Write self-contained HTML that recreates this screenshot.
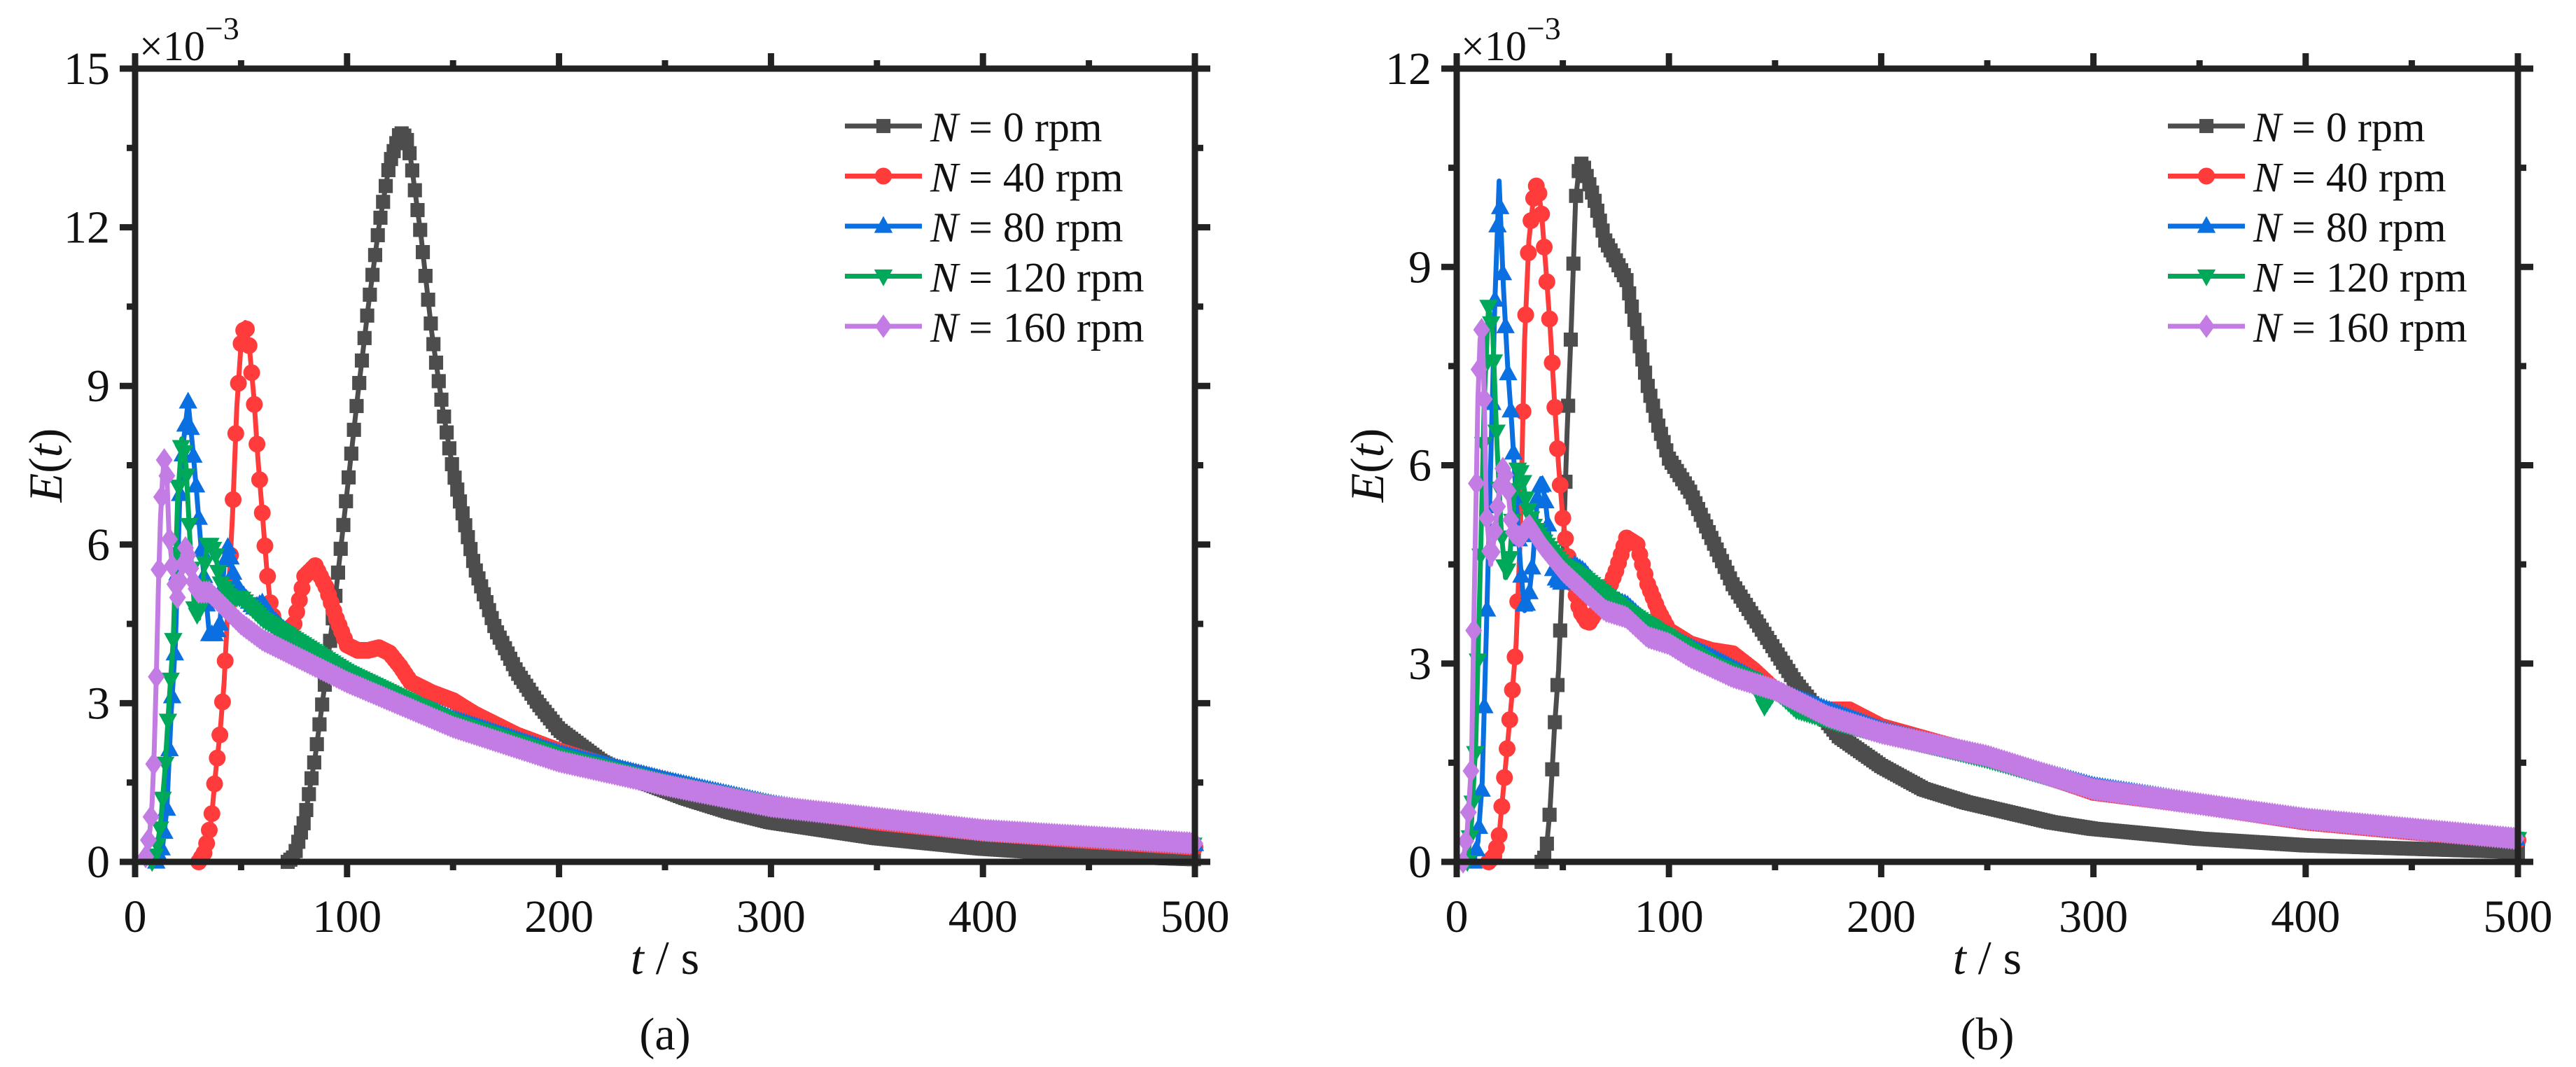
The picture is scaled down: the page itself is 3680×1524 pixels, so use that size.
<!DOCTYPE html>
<html><head><meta charset="utf-8">
<style>
html,body{margin:0;padding:0;background:#fff;}
svg{display:block;font-family:"Liberation Serif",serif;}
</style></head>
<body>
<svg id="fig" width="3680" height="1524" viewBox="0 0 3680 1524" xmlns="http://www.w3.org/2000/svg"></svg>
<script>
// ---------- data: panel (a) ----------
const xTicks = [0,100,200,300,400,500];
const yTicksA = [0,3,6,9,12,15];
const yTicksB = [0,3,6,9,12];
const seriesLabels = ["0","40","80","120","160"];

const tA0 = [72,75,80,85,90,95,100,105,110,115,120,125,128,130,135,140,145,150,160,170,180,190,200,220,240,260,280,300,350,400,450,500];
const eA0 = [0,0.1,0.8,2.0,3.5,5.2,7.0,8.8,10.5,12.0,13.2,13.8,13.7,13.3,11.8,10.0,8.6,7.4,5.6,4.4,3.6,3.0,2.5,1.9,1.5,1.2,0.95,0.75,0.45,0.25,0.12,0.05];
const tA1 = [30,33,36,38,40,42,44,46,48,50,52,54,56,58,60,62,64,66,70,75,80,85,90,95,100,105,110,115,120,125,130,140,150,160,180,200,220,250,300,350,400,450,500];
const eA1 = [0,0.2,0.8,1.7,2.4,3.4,5.0,6.6,8.6,9.8,10.2,9.7,8.8,7.6,6.6,5.6,4.8,4.5,4.3,4.5,5.4,5.6,5.2,4.6,4.1,4.0,4.0,4.05,3.95,3.7,3.4,3.2,3.05,2.8,2.4,2.1,1.85,1.55,1.05,0.75,0.55,0.4,0.28];
const tA2 = [10,13,15,17,19,21,23,25,27,29,31,33,35,38,40,42,44,46,48,52,56,60,65,70,80,100,120,150,200,250,300,350,400,450,500];
const eA2 = [0,0.3,1.0,2.8,4.1,6.8,8.0,8.7,7.9,7.0,6.0,5.2,4.3,4.3,4.5,5.6,6.0,5.5,5.2,5.0,4.8,4.9,4.6,4.4,4.1,3.6,3.2,2.7,2.05,1.55,1.1,0.8,0.6,0.45,0.33];
const tA3 = [8,10,12,14,16,18,20,22,24,26,28,30,32,34,36,38,40,45,50,60,80,100,150,200,250,300,400,500];
const eA3 = [0,0.2,0.7,1.7,3.0,4.2,6.8,8.0,7.5,6.0,4.8,4.6,5.3,6.0,6.0,5.8,5.3,5.0,5.0,4.6,4.1,3.6,2.65,2.0,1.5,1.1,0.6,0.33];
const tA4 = [5,7,8,9,10,11,12,13,14,15,16,18,20,22,24,26,28,30,35,40,50,60,80,100,150,200,250,300,400,500];
const eA4 = [0.1,0.6,1.1,2.1,3.5,5.2,6.5,7.3,7.7,7.3,6.2,5.4,5.0,5.5,6.0,5.6,5.2,5.1,5.1,4.9,4.5,4.2,3.8,3.4,2.55,1.9,1.45,1.05,0.6,0.35];

// ---------- data: panel (b) ----------
const tB0 = [40,42,44,46,48,50,52,54,56,58,60,65,70,75,80,85,90,95,100,110,120,130,140,150,160,170,180,200,220,240,260,280,300,350,400,450,500];
const eB0 = [0,0.1,0.8,2.0,2.9,4.5,6.5,8.1,10.0,10.6,10.5,10.0,9.4,9.1,8.8,8.0,7.2,6.6,6.1,5.6,4.9,4.2,3.7,3.2,2.7,2.3,1.9,1.45,1.1,0.9,0.75,0.6,0.5,0.35,0.25,0.2,0.15];
const tB1 = [15,18,20,22,24,26,28,30,32,34,36,38,40,42,44,46,48,50,52,55,58,62,66,70,75,80,85,90,95,100,110,120,130,140,150,170,185,200,250,300,350,400,450,500];
const eB1 = [0,0.1,0.4,1.1,1.8,2.5,3.3,5.0,7.9,9.4,10.0,10.3,9.8,9.0,8.1,7.0,6.0,5.2,4.7,4.2,3.8,3.6,3.8,4.0,4.4,4.9,4.8,4.2,3.8,3.5,3.3,3.2,3.15,2.9,2.6,2.3,2.3,2.05,1.6,1.05,0.85,0.6,0.45,0.33];
const tB2 = [8,10,12,14,16,18,20,22,24,26,28,30,32,34,36,38,40,42,44,46,50,55,60,70,80,90,100,120,150,200,250,300,350,400,450,500];
const eB2 = [0,0.3,1.2,3.5,6.0,8.5,10.3,8.7,7.5,6.6,5.5,4.5,3.8,4.0,4.6,5.5,5.8,5.4,4.8,4.3,4.2,4.5,4.4,4.0,3.9,3.6,3.4,3.1,2.6,2.0,1.6,1.15,0.9,0.65,0.5,0.35];
const tB3 = [5,7,9,11,13,15,17,19,21,23,25,27,29,31,33,36,40,50,60,80,100,120,140,145,150,160,180,200,250,300,400,500];
const eB3 = [0,0.6,1.8,4.3,7.0,8.4,8.0,6.3,5.0,4.3,4.6,5.5,6.0,5.8,5.4,5.1,4.9,4.5,4.3,3.8,3.4,3.0,2.75,2.35,2.6,2.3,2.1,1.95,1.55,1.1,0.65,0.35];
const tB4 = [3,5,7,8,9,10,11,12,13,14,16,18,20,22,24,26,30,34,40,50,60,70,80,90,100,110,130,150,175,200,250,300,400,500];
const eB4 = [0,0.5,1.5,3.5,5.3,7.0,7.9,8.1,7.0,5.3,4.5,5.0,5.6,6.0,5.7,5.0,4.9,5.1,4.8,4.4,4.1,3.8,3.7,3.4,3.3,3.1,2.8,2.6,2.2,1.95,1.6,1.1,0.65,0.35];

const colors = ["#4d4d4d","#ff3b3b","#0a6fe0","#00a85a","#c27ce3"];
const markers = ["square","circle","triangle","tridown","diamond"];

const NS = "http://www.w3.org/2000/svg";
const svg = document.getElementById("fig");
function mk(tag, attrs, parent){
  const el = document.createElementNS(NS, tag);
  for (const k in attrs) el.setAttribute(k, attrs[k]);
  (parent||svg).appendChild(el);
  return el;
}

function marker(g, type, x, y, col, s){
  let el;
  if (type==="square") el = mk("rect",{x:x-s*0.42,y:y-s*0.42,width:s*0.84,height:s*0.84,fill:col},g);
  else if (type==="circle") el = mk("circle",{cx:x,cy:y,r:s*0.5,fill:col},g);
  else if (type==="triangle") el = mk("polygon",{points:`${x},${y-s*0.6} ${x-s*0.55},${y+s*0.4} ${x+s*0.55},${y+s*0.4}`,fill:col},g);
  else if (type==="tridown") el = mk("polygon",{points:`${x},${y+s*0.6} ${x-s*0.55},${y-s*0.4} ${x+s*0.55},${y-s*0.4}`,fill:col},g);
  else el = mk("polygon",{points:`${x},${y-s*0.7} ${x-s*0.5},${y} ${x},${y+s*0.7} ${x+s*0.5},${y}`,fill:col},g);
  
  
}

function valueAt(ts, es, t){
  for (let j=1;j<ts.length;j++){
    if (t<=ts[j]){ const f=(t-ts[j-1])/(ts[j]-ts[j-1]); return es[j-1]+f*(es[j]-es[j-1]); }
  }
  return es[es.length-1];
}

function panel(id, L, R, T, B, yMax, yTicks, tArr, eArr, label){
  const g = mk("g",{});
  
  
  const xs = v => L + (v/500)*(R-L);
  const ys = v => B - (v/yMax)*(B-T);

  for (let i=0;i<5;i++){
    const sg = mk("g",{},g);
    
    
    const ts = tArr[i], es = eArr[i];
    const pts = ts.map((t,j)=>xs(t).toFixed(1)+","+ys(es[j]).toFixed(1)).join(" ");
    const pl = mk("polyline",{points:pts,fill:"none",stroke:colors[i],"stroke-width":7,"stroke-linejoin":"round"},sg);
    
    
    const t0 = ts[0], t1 = ts[ts.length-1];
    for (let t=t0; t<=t1+0.001; t+=1.25){
      marker(sg, markers[i], xs(t), ys(valueAt(ts,es,t)), colors[i], 24);
    }
  }

  const fr = mk("rect",{x:L,y:T,width:R-L,height:B-T,fill:"none",stroke:"#222","stroke-width":9},g);
  
  

  for (let v=0; v<=500; v+=50){
    const major = v%100===0, len = major?22:12;
    const x = xs(v);
    mk("line",{x1:x,y1:B,x2:x,y2:B+len,stroke:"#222","stroke-width":9},g);
    mk("line",{x1:x,y1:T,x2:x,y2:T-len,stroke:"#222","stroke-width":9},g);
  }
  xTicks.forEach(v=>{
    const t = mk("text",{x:xs(v),y:B+100,"font-size":66,"text-anchor":"middle",fill:"#111"},g);
    t.textContent = v;
    
    
  });
  for (let v=0; v<=yMax+0.001; v+=1.5){
    const major = Math.abs(v%3)<0.01, len = major?22:12;
    const y = ys(v);
    mk("line",{x1:L,y1:y,x2:L-len,y2:y,stroke:"#222","stroke-width":9},g);
    mk("line",{x1:R,y1:y,x2:R+len,y2:y,stroke:"#222","stroke-width":9},g);
  }
  yTicks.forEach(v=>{
    const t = mk("text",{x:L-36,y:ys(v)+22,"font-size":66,"text-anchor":"end",fill:"#111"},g);
    t.textContent = v;
    
    
  });
  const ex = mk("text",{x:L+6,y:T-12,"font-size":60,fill:"#111"},g);
  
  
  ex.innerHTML = '×10<tspan dy="-30" font-size="46">−3</tspan>';

  const xt = mk("text",{x:(L+R)/2,y:B+160,"font-size":68,"text-anchor":"middle",fill:"#111"},g);
  
  
  xt.innerHTML = '<tspan font-style="italic">t</tspan> / s';
  const yt = mk("text",{x:0,y:0,"font-size":68,"text-anchor":"middle",fill:"#111",transform:`translate(${L-105},${(T+B)/2}) rotate(-90)`},g);
  
  
  yt.innerHTML = '<tspan font-style="italic">E</tspan>(<tspan font-style="italic">t</tspan>)';
  const pl = mk("text",{x:(L+R)/2,y:B+268,"font-size":66,"text-anchor":"middle",fill:"#111"},g);
  
  
  pl.textContent = label;

  const lg = mk("g",{},g);
  
  
  for (let i=0;i<5;i++){
    const y = 180 + i*71.5;
    const x0 = R-500, x1 = R-390;
    const e = mk("g",{},lg);
    
    
    mk("line",{x1:x0,y1:y,x2:x1,y2:y,stroke:colors[i],"stroke-width":7},e);
    marker(e, markers[i], (x0+x1)/2, y, colors[i], 24);
    const t = mk("text",{x:R-378,y:y+22,"font-size":60,fill:"#111"},e);
    t.innerHTML = '<tspan font-style="italic">N</tspan> = '+seriesLabels[i]+' rpm';
  }
}

panel("a", 193, 1707, 98, 1231, 15, yTicksA, [tA0,tA1,tA2,tA3,tA4], [eA0,eA1,eA2,eA3,eA4], "(a)");
panel("b", 2081, 3597, 98, 1231, 12, yTicksB, [tB0,tB1,tB2,tB3,tB4], [eB0,eB1,eB2,eB3,eB4], "(b)");
</script>
</body></html>
